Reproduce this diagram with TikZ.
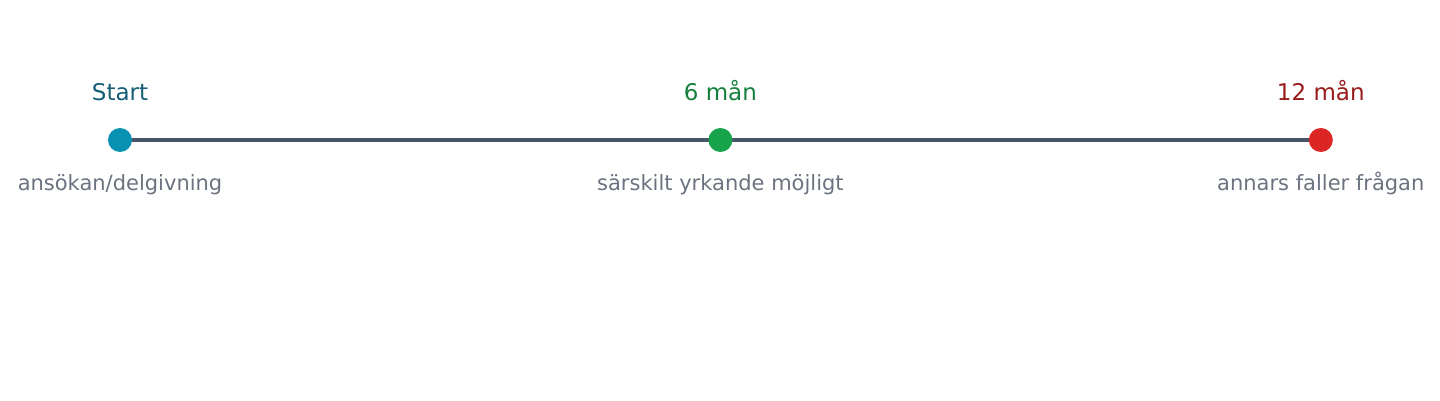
\documentclass[tikz,border=0pt]{standalone}
\usepackage{fontspec}
\setmainfont{DejaVu Sans}
\usetikzlibrary{positioning,backgrounds}
\definecolor{axisgray}{HTML}{475569}
\definecolor{startblue}{HTML}{0891B2}
\definecolor{startdark}{HTML}{155E75}
\definecolor{midgreen}{HTML}{16A34A}
\definecolor{middark}{HTML}{15803D}
\definecolor{endred}{HTML}{DC2626}
\definecolor{enddark}{HTML}{991B1B}
\definecolor{notegray}{HTML}{6B7280}
\tikzset{
    %Define style for the milestone dots
    dot/.style={
           circle,
           inner sep=0pt,
           minimum size=24pt},
    %Define style for the labels
    toplabel/.style={
           inner sep=0pt,
           text depth=0pt,
           font=\fontsize{23}{27}\selectfont},
    note/.style={
           inner sep=0pt,
           text height=16pt,
           text=notegray,
           font=\fontsize{21}{25}\selectfont},
    % Define axis style
    axis/.style={
           draw=axisgray,
           line width=4pt}
}
\begin{document}
\begin{tikzpicture}[x=1pt,y=1pt]
  \useasboundingbox (0,0) rectangle (1440,400);

  \node[dot, fill=startblue] (start) at (120,260) {};
  \node[dot, fill=midgreen, right=576pt of start] (mid) {};
  \node[dot, fill=endred, right=576pt of mid] (end) {};

  \begin{scope}[on background layer]
    \path [axis] (start.center) -- (end.center);
  \end{scope}

  \node[toplabel, text=startdark, above=27pt of start] (start-top) {Start};
  \node[toplabel, text=middark, above=27pt of mid] (mid-top) {6 mån};
  \node[toplabel, text=enddark, above=27pt of end] (end-top) {12 mån};

  \node[note, below=22pt of start] (start-note) {ansökan/delgivning};
  \node[note, below=22pt of mid] (mid-note) {särskilt yrkande möjligt};
  \node[note, below=22pt of end] (end-note) {annars faller frågan};
\end{tikzpicture}
\end{document}
